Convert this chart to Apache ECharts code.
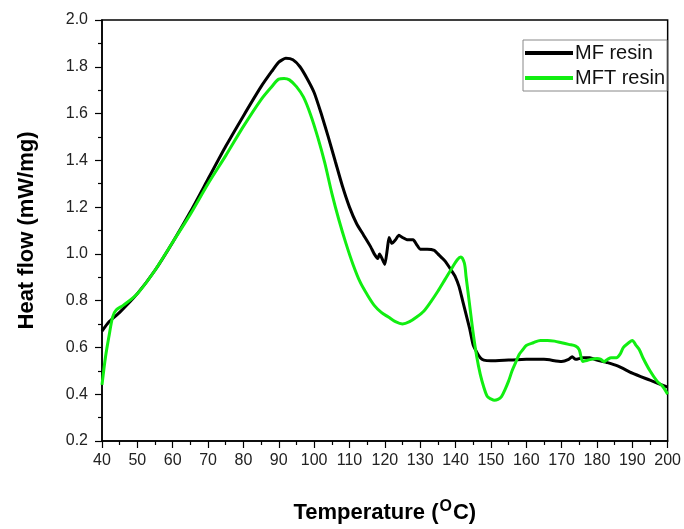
<!DOCTYPE html>
<html>
<head>
<meta charset="utf-8">
<title>DSC curves</title>
<script src="https://cdn.jsdelivr.net/npm/echarts@6/dist/echarts.min.js"></script>
<style>
  html, body { margin: 0; padding: 0; background: #fff; }
  #main { width: 684px; height: 529px; }
</style>
</head>
<body>
<div id="main"></div>
<script type="text/javascript">
// MF resin
var mfTemp = [40, 42, 45, 50, 55, 60, 65, 70, 75, 80, 85, 88, 90, 92, 94, 96, 98, 100,
  102, 104, 106, 108, 110, 112, 114, 116, 117, 118, 118.5, 119.5, 120, 120.7, 121.2, 122,
  123, 124, 125, 126.5, 128, 129, 130, 132, 134, 135, 137, 139, 140, 141, 142, 143, 144,
  145, 146, 147, 148, 150, 155, 160, 165, 170, 172, 173, 174, 176, 178, 180, 183, 186,
  190, 195, 200];
var mfHeat = [0.67, 0.71, 0.75, 0.83, 0.93, 1.05, 1.18, 1.32, 1.46, 1.59, 1.715, 1.78,
  1.82, 1.836, 1.83, 1.80, 1.75, 1.69, 1.60, 1.50, 1.395, 1.29, 1.20, 1.13, 1.08, 1.03,
  1.00, 0.98, 1.00, 0.97, 0.955, 1.02, 1.07, 1.045, 1.06, 1.08, 1.07, 1.06, 1.06, 1.04,
  1.02, 1.02, 1.015, 1.00, 0.97, 0.925, 0.90, 0.86, 0.80, 0.74, 0.68, 0.61, 0.58, 0.556,
  0.546, 0.543, 0.546, 0.549, 0.549, 0.54, 0.549, 0.56, 0.549, 0.556, 0.556, 0.546,
  0.535, 0.52, 0.49, 0.46, 0.43];

// MFT resin
var mftTemp = [40, 41, 42, 43, 44, 46, 50, 55, 60, 65, 70, 75, 80, 85, 88, 90, 91.5, 93,
  95, 97, 99, 101, 103, 105, 107, 109, 111, 113, 115, 117, 119, 121, 123, 125, 127, 129,
  131, 133, 135, 137, 139, 140.5, 141.5, 142.5, 143, 144, 145, 146, 147, 148, 149, 150,
  151, 152, 153, 154, 155, 156, 157, 158, 159, 160, 162, 164, 166, 168, 170, 172, 174,
  175, 176, 177, 178, 180, 181, 182, 183, 184, 185.5, 186.5, 187.5, 189, 190, 191, 192,
  193, 195, 197, 198.5, 200];
var mftHeat = [0.44, 0.56, 0.65, 0.73, 0.76, 0.78, 0.83, 0.93, 1.05, 1.17, 1.30, 1.42,
  1.545, 1.66, 1.715, 1.747, 1.75, 1.744, 1.715, 1.67, 1.595, 1.50, 1.39, 1.26, 1.146,
  1.045, 0.955, 0.88, 0.826, 0.78, 0.75, 0.73, 0.71, 0.70, 0.71, 0.73, 0.755, 0.795,
  0.84, 0.89, 0.94, 0.975, 0.987, 0.96, 0.90, 0.78, 0.66, 0.56, 0.485, 0.43, 0.39, 0.38,
  0.374, 0.378, 0.39, 0.42, 0.456, 0.50, 0.535, 0.57, 0.59, 0.608, 0.62, 0.63, 0.63,
  0.627, 0.62, 0.613, 0.606, 0.59, 0.54, 0.544, 0.548, 0.553, 0.55, 0.54, 0.549, 0.556,
  0.556, 0.57, 0.60, 0.62, 0.63, 0.61, 0.59, 0.556, 0.50, 0.456, 0.435, 0.40];

var seriesNames = ['MF resin', 'MFT resin'];

function pairs(xs, ys) {
  var out = [];
  for (var i = 0; i < xs.length; i++) out.push([xs[i], ys[i]]);
  return out;
}

var myChart = echarts.init(document.getElementById('main'));
var font = 'Liberation Sans, Arial, sans-serif';

var option = {
  backgroundColor: '#fff',
  animation: false,
  grid: {
    left: 102, right: 16, top: 20, bottom: 88,
    show: true, borderColor: '#000', borderWidth: 1.5, backgroundColor: 'transparent'
  },
  legend: {
    data: seriesNames,
    orient: 'vertical',
    right: 17, top: 40,
    padding: [3, 2, 3, 2],
    itemGap: 5,
    icon: 'rect',
    itemWidth: 48, itemHeight: 4,
    borderColor: '#888', borderWidth: 1,
    backgroundColor: '#fff',
    textStyle: { fontFamily: font, fontSize: 20, color: '#111', padding: [0, 0, 0, -3] }
  },
  xAxis: {
    type: 'value',
    min: 40, max: 200, interval: 10,
    name: 'Temperature ({sup|O}C)',
    nameLocation: 'middle',
    nameGap: 58,
    nameTextStyle: {
      fontFamily: font, fontSize: 22, fontWeight: 'bold', color: '#000',
      rich: { sup: { fontFamily: font, fontSize: 16, fontWeight: 'bold', color: '#000', padding: [0, 1, 12, 1] } }
    },
    axisLine: { show: true, lineStyle: { color: '#000', width: 1.5 } },
    axisTick: { show: true, length: 7, lineStyle: { color: '#000', width: 1.2 } },
    minorTick: { show: true, splitNumber: 2, length: 4, lineStyle: { color: '#000', width: 1.2 } },
    axisLabel: { fontFamily: font, fontSize: 16, color: '#222', margin: 12 },
    splitLine: { show: false }
  },
  yAxis: {
    type: 'value',
    min: 0.2, max: 2.0, interval: 0.2,
    name: 'Heat flow (mW/mg)',
    nameLocation: 'middle',
    nameGap: 64,
    nameTextStyle: { fontFamily: font, fontSize: 22, fontWeight: 'bold', color: '#000' },
    axisLine: { show: true, lineStyle: { color: '#000', width: 1.5 } },
    axisTick: { show: true, length: 7, lineStyle: { color: '#000', width: 1.2 } },
    minorTick: { show: true, splitNumber: 2, length: 4, lineStyle: { color: '#000', width: 1.2 } },
    axisLabel: {
      fontFamily: font, fontSize: 16, color: '#222', margin: 14,
      formatter: function (v) { return v.toFixed(1); }
    },
    splitLine: { show: false }
  },
  series: [
    {
      name: seriesNames[0],
      type: 'line',
      symbol: 'none',
      smooth: 0.2,
      lineStyle: { color: '#000', width: 3 },
      itemStyle: { color: '#000' },
      data: pairs(mfTemp, mfHeat)
    },
    {
      name: seriesNames[1],
      type: 'line',
      symbol: 'none',
      smooth: 0.3,
      lineStyle: { color: '#11ee11', width: 3 },
      itemStyle: { color: '#11ee11' },
      data: pairs(mftTemp, mftHeat)
    }
  ]
};

myChart.setOption(option);
</script>
</body>
</html>
